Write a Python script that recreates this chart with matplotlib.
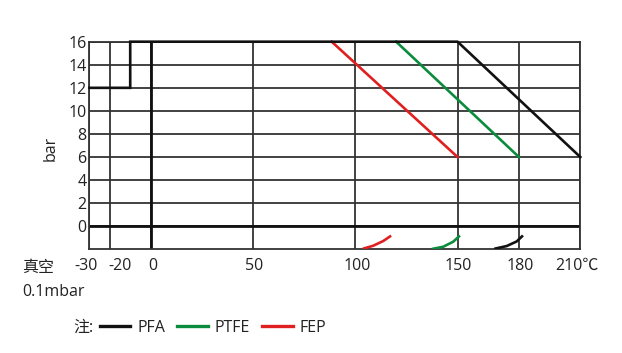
import matplotlib
matplotlib.use("Agg")
import matplotlib.pyplot as plt
from matplotlib.lines import Line2D
from matplotlib.transforms import ScaledTranslation

plt.rcParams['font.family'] = ['Open Sans', 'Noto Sans CJK SC', 'DejaVu Sans']

# ---- data ----
x_ticks = [-30, -20, 0, 50, 100, 150, 180, 210]
x_tick_labels = ['-30', '-20', '0', '50', '100', '150', '180', '210℃']
y_ticks = [0, 2, 4, 6, 8, 10, 12, 14, 16]
y_tick_labels = ['0', '2', '4', '6', '8', '10', '12', '14', '16']

pfa_x = [-30, -10, -10, 150, 210]
pfa_y = [12, 12, 16, 16, 6]
ptfe_x = [120, 180]
ptfe_y = [16, 6]
fep_x = [88.5, 150]
fep_y = [16, 6]

# vacuum curves (bottom band)
pfa_vac_x = [168.6, 174.0, 178.9, 181.5]
pfa_vac_y = [-1.93, -1.72, -1.32, -0.88]
ptfe_vac_x = [138.1, 143.0, 147.9, 150.7]
ptfe_vac_y = [-1.95, -1.78, -1.34, -0.88]
fep_vac_x = [104.3, 108.8, 113.7, 117.0]
fep_vac_y = [-1.92, -1.69, -1.28, -0.88]

series_names = ['PFA', 'PTFE', 'FEP']
series_colors = ['#111111', '#0b8c3c', '#e02020']

# ---- figure ----
W, H = 622, 353
fig = plt.figure(figsize=(W / 100, H / 100), dpi=100)
ax = fig.add_axes([89.3 / W, 1 - 249.3 / H, (580.3 - 89.3) / W, (249.3 - 41.7) / H])
ax.set_xlim(-30, 210)
ax.set_ylim(-2, 16)

grid_c = '#333333'
for v in x_ticks:
    ax.axvline(v, color=grid_c, lw=1.3, zorder=1)
for v in y_ticks:
    ax.axhline(v, color=grid_c, lw=1.3, zorder=1)
for s in ax.spines.values():
    s.set_color(grid_c)
    s.set_linewidth(1.3)

# thick axes at 0
ax.axhline(0, color='#111111', lw=2.0, zorder=2)
ax.axvline(0, color='#111111', lw=2.0, zorder=2)

lw = 1.9
ax.plot(pfa_x, pfa_y, color=series_colors[0], lw=lw, zorder=4, solid_joinstyle='miter', clip_on=False)
ax.plot(ptfe_x, ptfe_y, color=series_colors[1], lw=lw, zorder=3, clip_on=False)
ax.plot(fep_x, fep_y, color=series_colors[2], lw=lw, zorder=3, clip_on=False)
ax.plot(pfa_vac_x, pfa_vac_y, color=series_colors[0], lw=lw, zorder=3)
ax.plot(ptfe_vac_x, ptfe_vac_y, color=series_colors[1], lw=lw, zorder=3)
ax.plot(fep_vac_x, fep_vac_y, color=series_colors[2], lw=lw, zorder=3)

fs = 11.5
ax.set_xticks(x_ticks, x_tick_labels, fontsize=fs, color='#222222')
ax.set_yticks(y_ticks, y_tick_labels, fontsize=fs, color='#222222')
ax.tick_params(length=0, pad=6)
ax.tick_params(axis='y', pad=2)

# small label shifts (pixels)
shifts = [-3, 10, 2, 1, 2, 1, 1, -3]
for lab, dx in zip(ax.get_xticklabels(), shifts):
    lab.set_transform(lab.get_transform() + ScaledTranslation(dx / 100, 0, fig.dpi_scale_trans))

fig.text(51 / W, 1 - 148 / H, 'bar', rotation=90, fontsize=fs, ha='center', va='center', color='#222222')
fig.text(22 / W, 1 - 268 / H, '真空', fontsize=fs, ha='left', va='center', color='#222222')
fig.text(22 / W, 1 - 292 / H, '0.1mbar', fontsize=fs, ha='left', va='center', color='#222222')

fig.text(73 / W, 1 - 328 / H, '注:', fontsize=fs, ha='left', va='center', color='#222222')
handles = [Line2D([], [], color=c, lw=2.4) for c in series_colors]
fig.legend(handles, series_names, loc='center left', bbox_to_anchor=(100 / W, 1 - 328 / H),
           ncol=3, frameon=False, fontsize=fs, handlelength=1.9, handletextpad=0.45,
           columnspacing=0.75, borderpad=0, borderaxespad=0, labelcolor='#222222')

fig.savefig('out.png', dpi=100)
